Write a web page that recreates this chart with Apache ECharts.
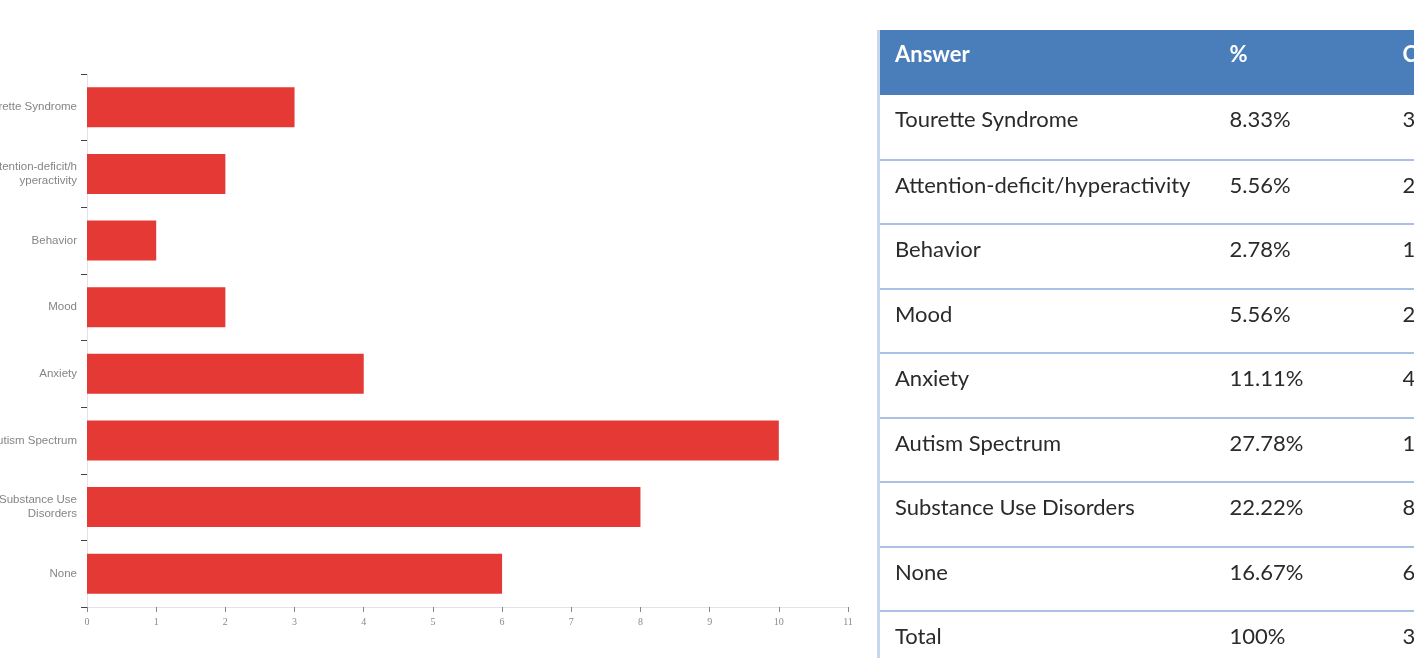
<!DOCTYPE html>
<html>
<head>
<meta charset="utf-8">
<script src="https://cdn.jsdelivr.net/npm/echarts@6/dist/echarts.min.js"></script>
<style>
  html, body { margin: 0; padding: 0; background: #fff; overflow: hidden; }
  #chart { position: absolute; left: 0; top: 0; width: 1414px; height: 658px; }
  #tbl {
    position: absolute; left: 877px; top: 30px; width: 680px; table-layout: fixed;
    border-collapse: collapse; font-family: Lato, "Open Sans", sans-serif; font-size: 22px; color: #2a2a2a;
    border-left: 3px solid #c6d7ee;
  }
  #tbl th, #tbl td { text-align: left; vertical-align: top; padding: 0; white-space: nowrap; overflow: visible; }
  #tbl th { background: #4a7ebb; color: #fff; font-weight: bold; height: 65px; padding-top: 10px; box-sizing: border-box; }
  #tbl td { height: 64.5px; box-sizing: border-box; padding-top: 10px; border-bottom: 2px solid #a9c1e2; }
  #tbl .c0 { width: 351px; padding-left: 15px; }
  #tbl .c1 { width: 173px; }
  #tbl .c2 { width: 156px; }
</style>
</head>
<body>
<div id="chart"></div>
<table id="tbl"></table>
<script>
// Survey answers and how many respondents picked each
const categories = [
  'Tourette Syndrome',
  'Attention-deficit/hyperactivity',
  'Behavior',
  'Mood',
  'Anxiety',
  'Autism Spectrum',
  'Substance Use Disorders',
  'None'
];
const counts = [3, 2, 1, 2, 4, 10, 8, 6];
const percents = ['8.33%', '5.56%', '2.78%', '5.56%', '11.11%', '27.78%', '22.22%', '16.67%'];
const tableHeader = ['Answer', '%', 'Count'];
const totalRow = ['Total', '100%', '36'];
const xTicks = { min: 0, max: 11, step: 1 };

// Axis labels wrap long answers onto two lines
const labelBreaks = {
  'Attention-deficit/hyperactivity': 'Attention-deficit/h\nyperactivity',
  'Substance Use Disorders': 'Substance Use\nDisorders'
};

const chart = echarts.init(document.getElementById('chart'), null, { renderer: 'canvas' });
chart.setOption({
  animation: false,
  grid: { left: 87, right: 566, top: 74, bottom: 51, containLabel: false, outerBoundsMode: 'none' },
  xAxis: {
    type: 'value',
    min: xTicks.min, max: xTicks.max, interval: xTicks.step,
    splitLine: { show: false },
    axisLine: { show: true, lineStyle: { color: '#e3e3e3', width: 1 } },
    axisTick: { show: true, length: 5, lineStyle: { color: '#888' } },
    axisLabel: { color: '#8a8a8a', fontSize: 10, fontFamily: '"Liberation Serif", serif', margin: 10 }
  },
  yAxis: {
    type: 'category',
    inverse: true,
    data: categories,
    axisLine: { show: true, lineStyle: { color: '#e3e3e3', width: 1 } },
    axisTick: { show: true, length: 6, lineStyle: { color: '#444' } },
    axisLabel: {
      color: '#858585', fontSize: 11.5, fontFamily: '"Liberation Sans", sans-serif', margin: 10,
      lineHeight: 14,
      formatter: v => labelBreaks[v] || v
    }
  },
  series: [{
    type: 'bar',
    data: counts,
    barCategoryGap: '40%',
    itemStyle: { color: '#e53935' }
  }]
});

// Companion results table
const tbl = document.getElementById('tbl');
let html = '<tr>' + tableHeader.map((h, i) => `<th class="c${i}">${h}</th>`).join('') + '</tr>';
categories.forEach((c, i) => {
  html += `<tr><td class="c0">${c}</td><td class="c1">${percents[i]}</td><td class="c2">${counts[i]}</td></tr>`;
});
html += '<tr>' + totalRow.map((t, i) => `<td class="c${i}">${t}</td>`).join('') + '</tr>';
tbl.innerHTML = html;
</script>
</body>
</html>
